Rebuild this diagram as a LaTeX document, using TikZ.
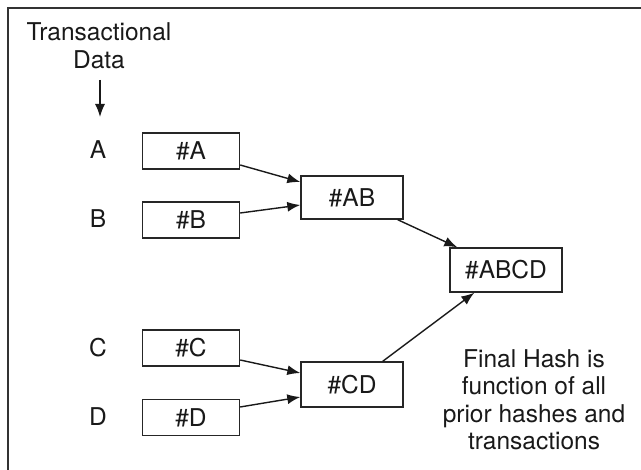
\documentclass[tikz,border=0pt]{standalone}
\usepackage{fontspec}
\setmainfont{TeX Gyre Heros}
\usetikzlibrary{arrows.meta}
\begin{document}
\begin{tikzpicture}[x=1pt,y=-1pt,
  hbox/.style={draw=black!85,line width=1.4pt,inner sep=0pt,font=\fontsize{24.5}{27}\selectfont,text=black!90},
  lbl/.style={inner sep=0pt,font=\fontsize{24.5}{27.5}\selectfont,text=black!90},
  conn/.style={line width=1.4pt,black!90,-{Latex[length=13pt,width=10pt]}}]
\useasboundingbox (0,0) rectangle (641,470);
\draw[line width=2pt,black!80] (7.5,470) -- (7.5,8) -- (641,8);
\node[lbl,align=center] (title) at (99,46) {Transactional\\Data};
\coordinate (tarrtop) at (100,80);
\coordinate (tarrbot) at (100,117);
\draw[conn] (tarrtop) -- (tarrbot);
\node[lbl] (la) at (98,150) {A};
\node[lbl] (lb) at (98,219) {B};
\node[lbl] (lc) at (98,348) {C};
\node[lbl] (ld) at (98,417) {D};
\node[hbox,minimum width=97pt,minimum height=36pt] (a) at (191,151) {\#A};
\node[hbox,minimum width=97pt,minimum height=36pt] (b) at (191,220) {\#B};
\node[hbox,minimum width=97pt,minimum height=36pt] (c) at (191,348) {\#C};
\node[hbox,minimum width=97pt,minimum height=36pt] (d) at (191,417.5) {\#D};
\node[hbox,minimum width=102pt,minimum height=43pt] (ab) at (352,197.5) {\#AB};
\node[hbox,minimum width=102pt,minimum height=45pt] (cd) at (352,384.5) {\#CD};
\node[hbox,minimum width=112pt,minimum height=44pt] (abcd) at (506,270) {\#ABCD};
\node[lbl,align=center] (note) at (534,400) {Final Hash is\\function of all\\prior hashes and\\transactions};
\draw[conn] ([yshift=-14pt]a.east) -- ([yshift=15.5pt]ab.west);
\draw[conn] ([yshift=7pt]b.east) -- ([yshift=-7.5pt]ab.west);
\draw[conn] ([yshift=-12pt]c.east) -- ([yshift=11.5pt]cd.west);
\draw[conn] ([yshift=10.5pt]d.east) -- ([yshift=-12.5pt]cd.west);
\draw[conn] ([xshift=-6pt]ab.south east) -- ([xshift=8pt]abcd.north west);
\draw[conn] ([xshift=-21pt]cd.north east) -- ([xshift=25pt]abcd.south west);
\end{tikzpicture}
\end{document}
